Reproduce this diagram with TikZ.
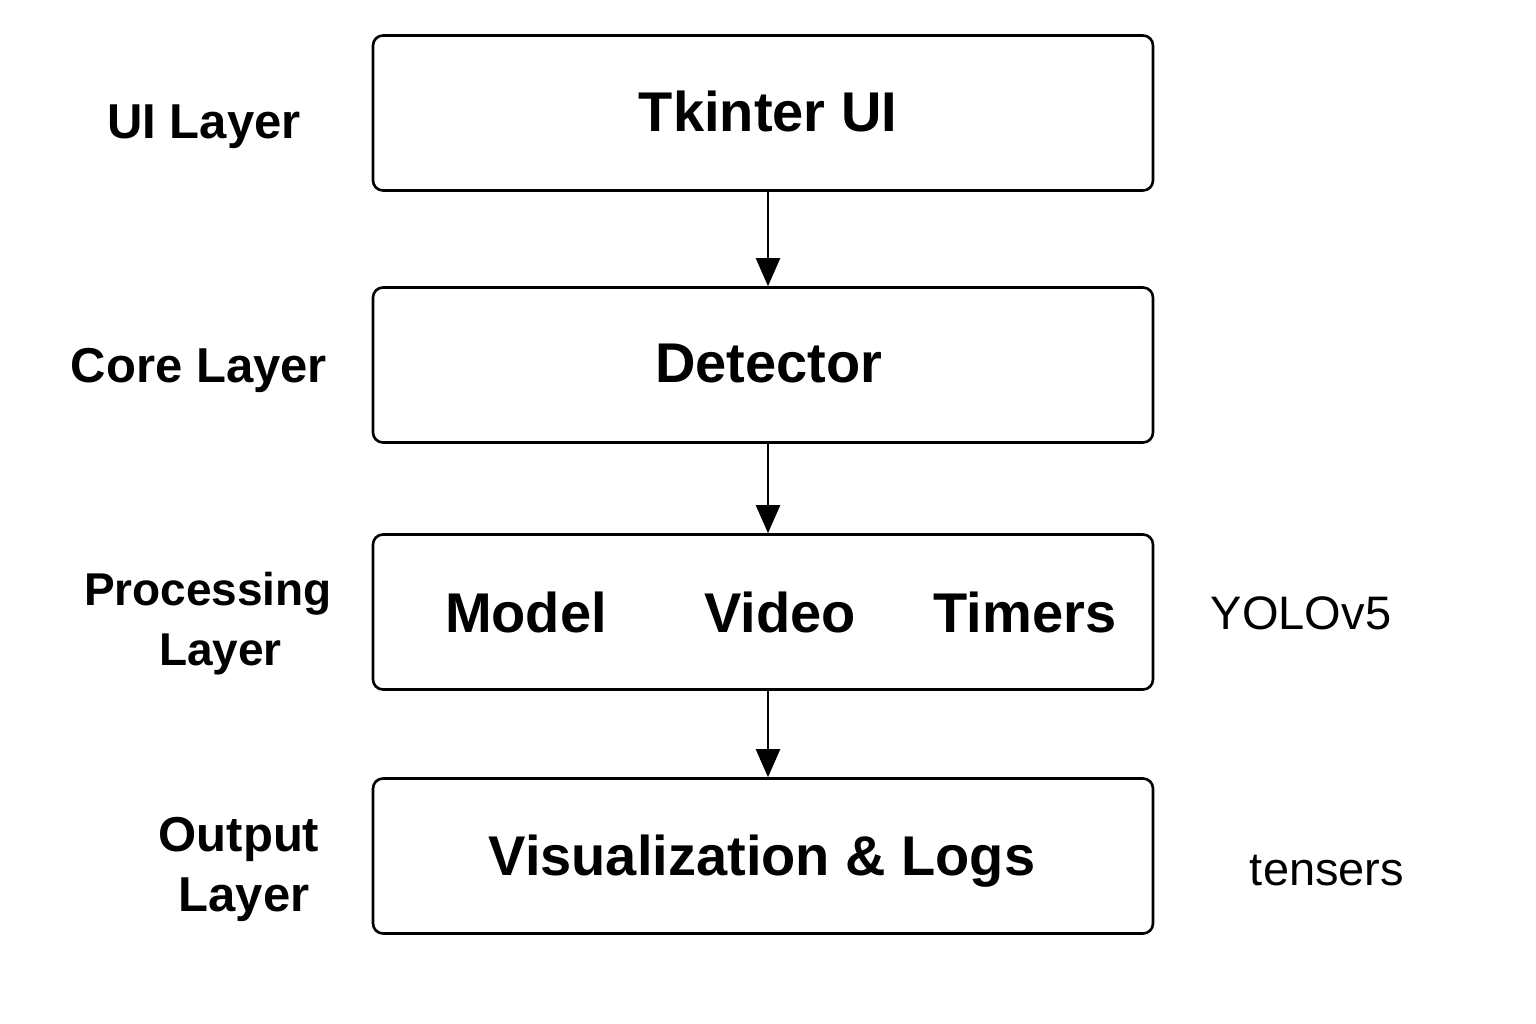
\documentclass[tikz,border=0pt]{standalone}
\usepackage{fontspec}
\setmainfont{Liberation Sans}
\usetikzlibrary{arrows.meta,positioning}

\begin{document}
\begin{tikzpicture}[x=1pt,y=-1pt,line width=2.6pt]
       \tikzstyle{layerbox}=[draw,rounded corners=10pt,minimum width=780pt,minimum height=155pt,
         font=\fontsize{56}{64}\selectfont\bfseries]
       \tikzstyle{layerlabel}=[align=center,font=\fontsize{49}{60}\selectfont\bfseries]
       \tikzstyle{note}=[font=\fontsize{47}{56}\selectfont]
       \tikzstyle{flow}=[-{Triangle[width=24pt,length=28pt]},line width=2.2pt]

       \useasboundingbox (0,0) rectangle (1536,1024);

       % boxes
       \node[layerbox] (tkui) at (763,113) {};
       \node[layerbox] (detector) at (763,365) {};
       \node[layerbox] (proc) at (763,612) {};
       \node[layerbox] (output) at (763,856) {};

       \node[layerbox,draw=none] (tklabel) at (768,111) {Tkinter UI};
       \node[layerbox,draw=none] (detlabel) at (769,364) {Detector};
       \node[layerbox,draw=none,minimum width=0pt] (model) at (526,612) {Model};
       \node[layerbox,draw=none,minimum width=0pt] (video) at (780,612) {Video};
       \node[layerbox,draw=none,minimum width=0pt] (timers) at (1025,612) {Timers};
       \node[layerbox,draw=none] (vislabel) at (762,861) {Visualization \& Logs};

       % layer names
       \node[layerlabel] (uilayer) at (204,127) {UI Layer};
       \node[layerlabel] (corelayer) at (199,370) {Core Layer};
       \node[layerlabel,font=\fontsize{46}{60}\selectfont\bfseries] (proclayer) at (208,624) {Processing\\\hspace*{25pt}Layer};
       \node[layerlabel] (outlayer) at (239,869) {Output\\\hspace*{10pt}Layer};

       % side notes
       \node[note] (yolo) at (1301,613) {YOLOv5};
       \node[note] (tensers) at (1327,871) {tensers};

       \path[flow]
       (tkui.south -| 768,0) edge (detector.north -| 768,0)
       (detector.south -| 768,0) edge (proc.north -| 768,0)
       (proc.south -| 768,0) edge (output.north -| 768,0);
     \end{tikzpicture}
\end{document}
